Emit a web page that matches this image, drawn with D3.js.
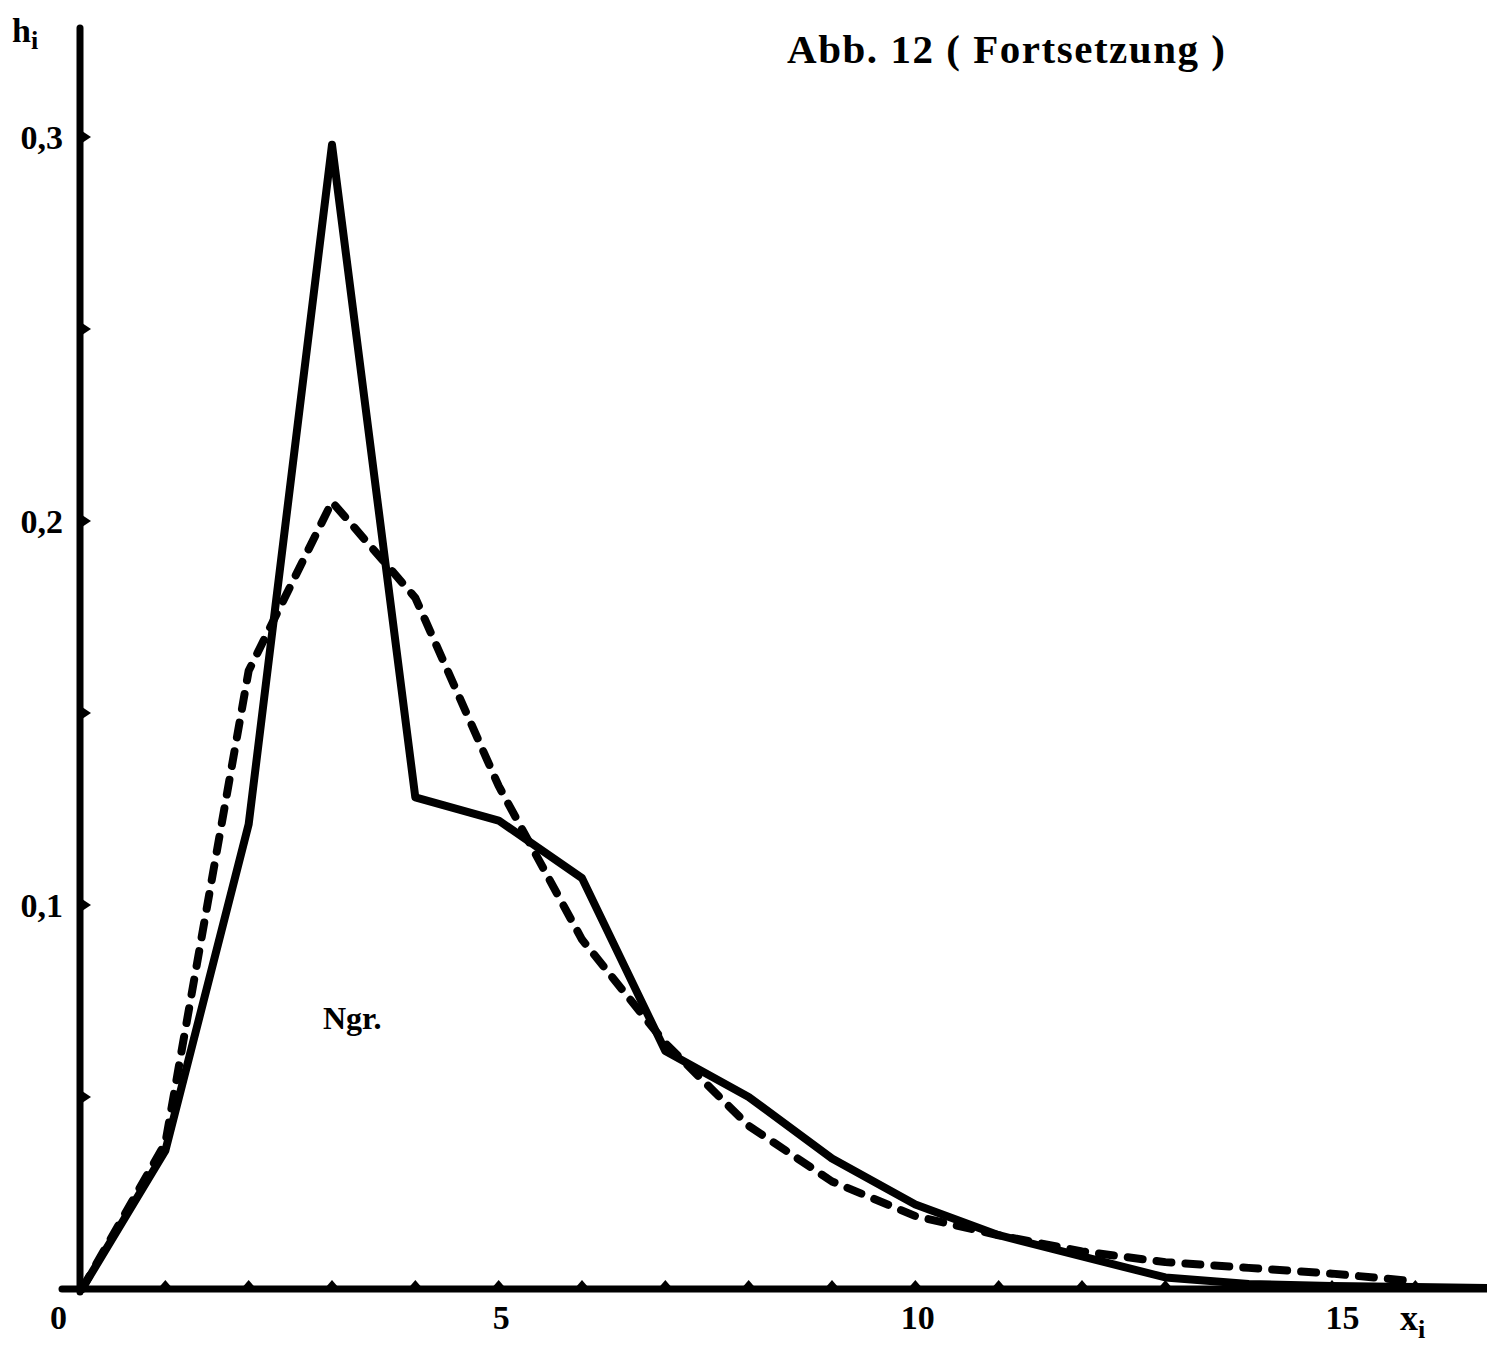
<!DOCTYPE html>
<html>
<head>
<meta charset="utf-8">
<style>
  body { margin: 0; background: #fff; }
  svg text { font-family: "Liberation Serif", "DejaVu Serif", serif; fill: #000; }
</style>
</head>
<body>
<svg id="chart" width="1487" height="1348"></svg>
<script src="https://d3js.org/d3.v7.min.js"></script>
<script>
// x_i values (classes)
var xValues = [0, 1, 2, 3, 4, 5, 6, 7, 8, 9, 10, 11, 12, 13, 14, 15, 16, 17];
// observed relative frequencies h_i (solid line)
var observed = [0, 0.036, 0.121, 0.298, 0.128, 0.122, 0.107, 0.062, 0.050, 0.034, 0.022, 0.014, 0.0085, 0.003, 0.0013, 0.0008, 0.0005, 0.0002];
// fitted distribution (dashed line), ends at x = 16
var fitted = [0, 0.038, 0.161, 0.205, 0.180, 0.131, 0.091, 0.064, 0.0425, 0.028, 0.019, 0.014, 0.0098, 0.007, 0.0055, 0.004, 0.002];

var xLabelTicks = [0, 5, 10, 15];
var yLabelTicks = [0.1, 0.2, 0.3];
var xMinorTicks = d3.range(1, 17);
var yMinorTicks = [0.05, 0.1, 0.15, 0.2, 0.25, 0.3];

var svg = d3.select('#chart');

var x = d3.scaleLinear().domain([0, 16.86]).range([82, 1487]);
var y = d3.scaleLinear().domain([0, 0.3]).range([1289, 137]);

var commaFmt = d3.formatLocale({decimal: ',', thousands: '.', grouping: [3], currency: ['', '']}).format('.1f');

// axis lines (thick, like the printed figure)
svg.append('line')
    .attr('x1', 80).attr('x2', 80)
    .attr('y1', 28).attr('y2', 1292)
    .attr('stroke', '#000').attr('stroke-width', 7).attr('stroke-linecap', 'round');
svg.append('line')
    .attr('x1', 62).attr('x2', 1487)
    .attr('y1', 1289).attr('y2', 1289)
    .attr('stroke', '#000').attr('stroke-width', 7).attr('stroke-linecap', 'round');

// small bump ticks
svg.append('g').selectAll('path')
    .data(xMinorTicks)
    .enter().append('path')
    .attr('d', function(d) {
        var cx = x(d);
        return 'M' + (cx - 6) + ',1287 L' + cx + ',1280 L' + (cx + 6) + ',1287 Z';
    })
    .attr('fill', '#000');
svg.append('g').selectAll('path')
    .data(yMinorTicks)
    .enter().append('path')
    .attr('d', function(d) {
        var cy = y(d);
        return 'M82,' + (cy - 6) + ' L91,' + cy + ' L82,' + (cy + 6) + ' Z';
    })
    .attr('fill', '#000');

// tick labels through d3 axes
var xAxis = d3.axisBottom(x)
    .tickValues(xLabelTicks)
    .tickSize(0)
    .tickPadding(0)
    .tickFormat(d3.format('d'));
var xAxisG = svg.append('g')
    .attr('transform', 'translate(0,1305)')
    .call(xAxis);
xAxisG.select('.domain').remove();
xAxisG.selectAll('text')
    .attr('font-size', 34)
    .attr('font-weight', 'bold')
    .attr('font-family', '"Liberation Serif", serif')
    .attr('dy', '0.7em')
    .attr('dx', function(d) { return d === 0 ? -24 : (d === 15 ? 10 : 2); });

var yAxis = d3.axisLeft(y)
    .tickValues(yLabelTicks)
    .tickSize(0)
    .tickPadding(0)
    .tickFormat(commaFmt);
var yAxisG = svg.append('g')
    .attr('transform', 'translate(63,0)')
    .call(yAxis);
yAxisG.select('.domain').remove();
yAxisG.selectAll('text')
    .attr('font-size', 34)
    .attr('font-weight', 'bold')
    .attr('font-family', '"Liberation Serif", serif')
    .attr('dy', '0.35em');

// axis titles
var hLab = svg.append('text').attr('x', 12).attr('y', 42)
    .attr('font-size', 34).attr('font-weight', 'bold');
hLab.append('tspan').text('h');
hLab.append('tspan').attr('font-size', 26).attr('dy', 7).text('i');

var xLab = svg.append('text').attr('x', 1400).attr('y', 1330)
    .attr('font-size', 36).attr('font-weight', 'bold');
xLab.append('tspan').text('x');
xLab.append('tspan').attr('font-size', 26).attr('dy', 8).text('i');

svg.append('text')
    .attr('x', 787).attr('y', 63)
    .attr('font-size', 41)
    .attr('font-weight', 'bold')
    .attr('textLength', 438)
    .attr('lengthAdjust', 'spacing')
    .text('Abb. 12 ( Fortsetzung )');

svg.append('text')
    .attr('x', 323).attr('y', 1029)
    .attr('font-size', 32)
    .attr('font-weight', 'bold')
    .text('Ngr.');

// lines
var line = d3.line()
    .x(function(d, i) { return x(xValues[i]); })
    .y(function(d) { return y(d); });

svg.append('path')
    .datum(fitted)
    .attr('d', line)
    .attr('fill', 'none')
    .attr('stroke', '#000')
    .attr('stroke-width', 8)
    .attr('stroke-linecap', 'round')
    .attr('stroke-linejoin', 'round')
    .attr('stroke-dasharray', '15 14');

svg.append('path')
    .datum(observed)
    .attr('d', line)
    .attr('fill', 'none')
    .attr('stroke', '#000')
    .attr('stroke-width', 8)
    .attr('stroke-linecap', 'round')
    .attr('stroke-linejoin', 'round');
</script>
</body>
</html>
